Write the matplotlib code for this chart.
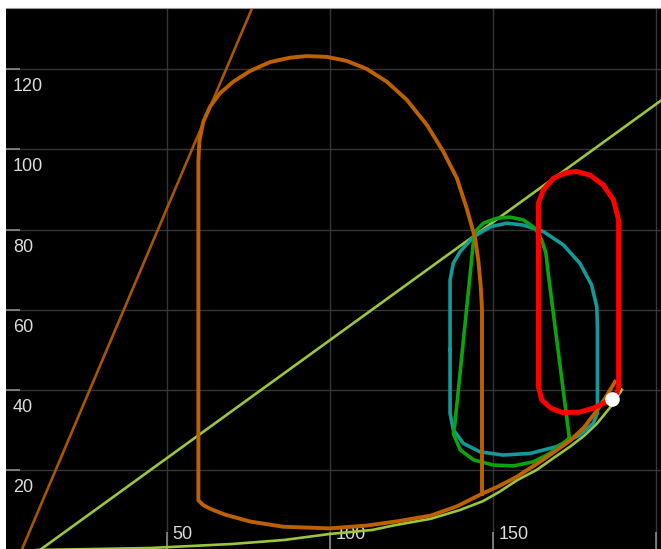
import numpy as np
import matplotlib
matplotlib.use("Agg")
import matplotlib.pyplot as plt
from matplotlib import transforms

plt.rcParams['font.family'] = ['Liberation Sans', 'DejaVu Sans']

# ---- values ----
x_ticks = [50, 100, 150, 200]
y_ticks = [20, 40, 60, 80, 100, 120]

# thin brown straight line
steep_x = [5.5, 76.2]
steep_y = [0.0, 135.3]

# thin yellow-green straight line
shallow_x = [11.1, 201.6]
shallow_y = [0.0, 112.2]

# thin yellow-green curve along the bottom
base_x = [10, 45, 70, 86, 100, 113, 120, 131, 140, 147, 152, 157.4, 163.5,
          168, 173.7, 178, 182, 186.5, 189.6]
base_y = [0.0, 0.5, 1.5, 2.5, 4.0, 5.0, 6.2, 7.8, 10.0, 12.2, 14.5, 17.4, 20.0,
          22.6, 25.8, 28.5, 31.6, 36.1, 40.0]

# thick brown loop (right side -> arc -> left side -> bottom -> tail)
brown_x = [146.7, 146.7, 146.3, 145.6, 144.6, 142.0, 139.0, 134.8, 129.8, 123.6,
           117.5, 111.3, 105.2, 99.1, 92.9, 87.8, 81.7, 75.6, 70.4, 66.3,
           63.3, 61.2, 60.0, 59.7, 59.7, 61.2, 63.3, 68.0, 75.6, 85.8, 100.1,
           111.3, 121.0, 131.0, 139.0, 146.6, 152.0, 157.4, 165.0, 173.7,
           178.0, 181.9, 185.0, 187.5]
brown_y = [14.0, 60.0, 66.0, 72.0, 77.8, 85.3, 92.8, 99.5, 106.1, 112.4,
           116.9, 120.1, 122.1, 123.1, 123.3, 122.9, 121.8, 119.6, 116.9, 114.0,
           110.7, 106.9, 102.0, 97.0, 12.4, 11.2, 10.3, 8.8, 7.1, 5.8, 5.4,
           6.1, 7.2, 8.6, 10.9, 14.0, 16.0, 18.3, 22.3, 27.3,
           30.6, 34.8, 38.6, 42.0]

# teal rounded loop
teal_x = [136.9, 136.9, 137.9, 140.0, 144.1, 149.3, 154.3, 159.4, 165.5, 171.6,
          176.7, 180.3, 181.9, 182.1, 182.1, 180.8, 176.7, 169.6, 161.4, 153.2,
          146.1, 141.0, 137.9, 136.9, 136.9]
teal_y = [50.0, 67.4, 71.6, 74.5, 78.2, 80.7, 81.6, 81.1, 79.5, 76.2,
          71.6, 66.2, 60.7, 55.8, 34.2, 31.6, 28.7, 25.8, 24.1, 23.7,
          24.5, 26.6, 30.0, 34.1, 50.0]

# green arch loop
green_x = [173.5, 167.0, 166.3, 165.0, 163.0, 159.4, 155.3, 151.2, 147.1, 144.6,
           144.1, 143.5, 138.4, 137.9, 140.0, 144.1, 150.2, 156.3, 162.4, 167.5,
           173.5]
green_y = [27.9, 69.1, 74.1, 77.4, 80.3, 82.4, 83.1, 82.8, 81.6, 79.5,
           77.4, 72.4, 31.6, 29.1, 25.0, 22.5, 21.2, 21.0, 22.0, 24.1,
           27.9]

# red stadium loop
red_x = [186.5, 183.9, 180.8, 176.5, 171.3, 167.8, 165.0, 164.0, 164.0, 165.5,
         168.6, 172.5, 175.6, 179.8, 183.9, 187.0, 188.6, 188.6, 188.0]
red_y = [37.6, 36.6, 35.4, 34.4, 34.3, 35.4, 37.5, 40.8, 86.6, 89.9,
         92.8, 94.2, 94.5, 93.6, 91.1, 87.4, 82.4, 40.8, 39.0]

# current point
dot_x = [186.5]
dot_y = [37.6]

# ---- plot ----
fig = plt.figure(figsize=(6.61, 5.49), dpi=100, facecolor="white")
ax = fig.add_axes([6 / 661, 0, 655 / 661, 541 / 549])
ax.set_facecolor("black")
ax.set_xlim(0.7, 201.6)
ax.set_ylim(0.25, 135.3)

ax.set_xticks(x_ticks)
ax.set_yticks(y_ticks)
ax.grid(True, color="#363636", lw=1.0, zorder=0)
ax.set_axisbelow(True)
ax.tick_params(axis="y", direction="in", length=10, width=1.2, color="#8a8a8a",
               labelleft=False)
ax.tick_params(axis="x", direction="in", length=12, width=1.2, color="#8a8a8a",
               labelbottom=False)
for s in ["left", "right", "bottom"]:
    ax.spines[s].set_visible(False)
ax.spines["top"].set_color("#9a9a9a")
ax.spines["top"].set_linewidth(0.8)

# tick labels drawn inside the plot
ytr = transforms.offset_copy(ax.get_yaxis_transform(), fig=fig, x=7, y=-17.5,
                             units="dots")
for v in y_ticks:
    ax.text(0, v, str(v), transform=ytr, color="#dcdcdc", fontsize=13,
            ha="left", va="center", zorder=1)
xtr = transforms.offset_copy(ax.get_xaxis_transform(), fig=fig, x=6, y=14.5,
                             units="dots")
for v in x_ticks:
    ax.text(v, 0, str(v), transform=xtr, color="#dcdcdc", fontsize=13,
            ha="left", va="center", zorder=1, clip_on=False)

ax.plot(shallow_x, shallow_y, color="#9cc63a", lw=1.9, zorder=2)
ax.plot(base_x, base_y, color="#9cc63a", lw=1.9, zorder=2)
ax.plot(steep_x, steep_y, color="#a85500", lw=1.9, zorder=2)
ax.plot(teal_x, teal_y, color="#12999a", lw=2.6, zorder=3,
        solid_joinstyle="round")
ax.plot(green_x, green_y, color="#0ca30c", lw=2.6, zorder=4,
        solid_joinstyle="round")
ax.plot(brown_x, brown_y, color="#bd6000", lw=2.8, zorder=5,
        solid_joinstyle="round")
ax.plot(red_x, red_y, color="#ff0000", lw=3.6, zorder=6,
        solid_joinstyle="round", solid_capstyle="round")
ax.plot(dot_x, dot_y, "o", color="white", ms=9.5, zorder=7)

fig.savefig("out.png", dpi=100, facecolor="white")
